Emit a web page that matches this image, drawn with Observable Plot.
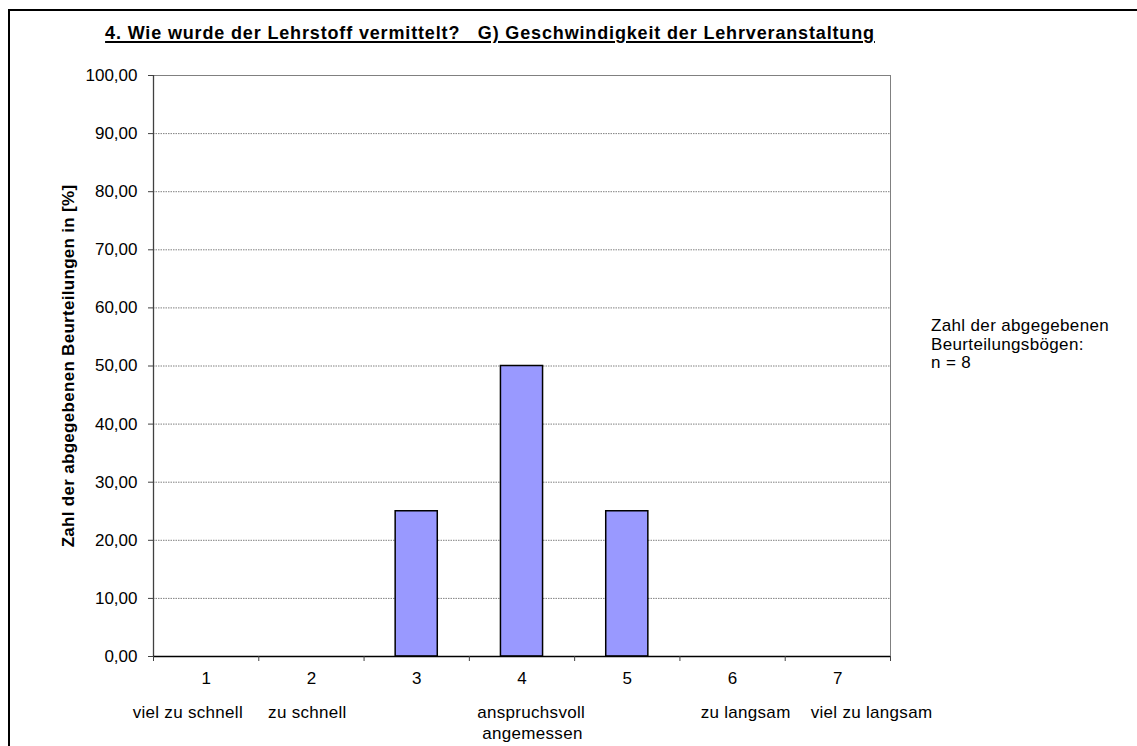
<!DOCTYPE html>
<html>
<head>
<meta charset="utf-8">
<script src="https://cdn.jsdelivr.net/npm/d3@7"></script>
<script src="https://cdn.jsdelivr.net/npm/@observablehq/plot@0.6"></script>
<style>
  html, body { margin: 0; padding: 0; background: #fff; }
  body { width: 1137px; height: 746px; overflow: hidden; position: relative; font-family: "Liberation Sans", Arial, sans-serif; }
  #frame { position: absolute; left: 8px; top: 9px; width: 1200px; height: 800px; border: 2px solid #000; pointer-events: none; z-index: 2; }
  #title { position: absolute; left: 0; width: 980px; top: 23px; text-align: center; font-weight: bold; font-size: 18px; letter-spacing: 0.85px; text-decoration: underline; text-decoration-thickness: 2px; text-underline-offset: 2px; white-space: pre; z-index: 1; }
  #note { position: absolute; left: 931px; top: 317px; font-size: 17px; letter-spacing: 0.35px; line-height: 18.5px; z-index: 1; }
  #scale { position: absolute; left: 0; width: 1065px; top: 702px; text-align: center; font-size: 17px; letter-spacing: 0.3px; line-height: 21px; white-space: pre; z-index: 1; }
  #chart { position: absolute; left: 0; top: 0; }
</style>
</head>
<body>
<div id="chart"></div>
<div id="title"></div>
<div id="note"></div>
<div id="scale"></div>
<div id="frame"></div>
<script>
const titleText = "4. Wie wurde der Lehrstoff vermittelt?   G) Geschwindigkeit der Lehrveranstaltung";
const yLabel = "Zahl der abgegebenen Beurteilungen in [%]";
const noteLines = ["Zahl der abgegebenen", "Beurteilungsbögen:", "n = 8"];
// verbal scale text box under the axis (as in the original, one centred text box)
const scaleLines = [
  "viel zu schnell     zu schnell                          anspruchsvoll                       zu langsam    viel zu langsam",
  "angemessen"
];

const categories = [1, 2, 3, 4, 5, 6, 7];
const values = [0.00, 0.00, 25.00, 50.00, 25.00, 0.00, 0.00];
const yTicks = [0, 10, 20, 30, 40, 50, 60, 70, 80, 90, 100];

const data = categories.map((c, i) => ({cat: c, value: values[i]}));
const xDomain = [categories[0] - 0.5, categories[categories.length - 1] + 0.5];
const boundaries = d3.range(xDomain[0], xDomain[1] + 0.001, 1);
const fmt = d => d.toFixed(2).replace(".", ",");
const halfBar = 0.2;

document.getElementById("title").textContent = titleText;
document.getElementById("note").innerHTML = noteLines.map(s => `<div>${s}</div>`).join("");
document.getElementById("scale").innerHTML = scaleLines.map(s => `<div>${s}</div>`).join("");

const chart = Plot.plot({
  width: 1137,
  height: 746,
  marginLeft: 153,
  marginRight: 247,
  marginTop: 75,
  marginBottom: 90,
  style: {fontFamily: "'Liberation Sans', Arial, sans-serif", fontSize: "17px", background: "transparent", color: "#000"},
  x: {domain: xDomain, axis: null},
  y: {domain: [0, 100], axis: null},
  marks: [
    Plot.gridY(yTicks.slice(1, -1), {stroke: "#808080", strokeOpacity: 1, strokeDasharray: "1.5,1"}),
    Plot.frame({stroke: "#808080"}),
    Plot.rectY(data, {filter: d => d.value > 0, x1: d => d.cat - halfBar, x2: d => d.cat + halfBar, y: "value", fill: "#9999FF", stroke: "#000", strokeWidth: 1.5}),
    Plot.ruleX([xDomain[0]], {stroke: "#404040", strokeWidth: 1.3}),
    Plot.ruleY([0], {stroke: "#000", strokeWidth: 1.5}),
    Plot.axisY({
      ticks: yTicks, tickFormat: fmt, tickSize: 5, tickPadding: 11, stroke: "#404040",
      label: yLabel, labelAnchor: "center", labelOffset: 92, labelArrow: "none",
      fontSize: 17
    }),
    Plot.axisX({ticks: boundaries, tickSize: 5, tickFormat: () => "", stroke: "#404040", label: null}),
    Plot.text(data, {x: "cat", frameAnchor: "bottom", lineAnchor: "top", dy: 15,
      text: d => String(d.cat), fontSize: 17, fill: "#000"})
  ]
});
document.getElementById("chart").appendChild(chart);
// bold the y-axis label
chart.querySelectorAll("[aria-label='y-axis label'] text").forEach(t => {
  t.setAttribute("font-weight", "bold");
  t.setAttribute("letter-spacing", "0.3px");
});
</script>
</body>
</html>
